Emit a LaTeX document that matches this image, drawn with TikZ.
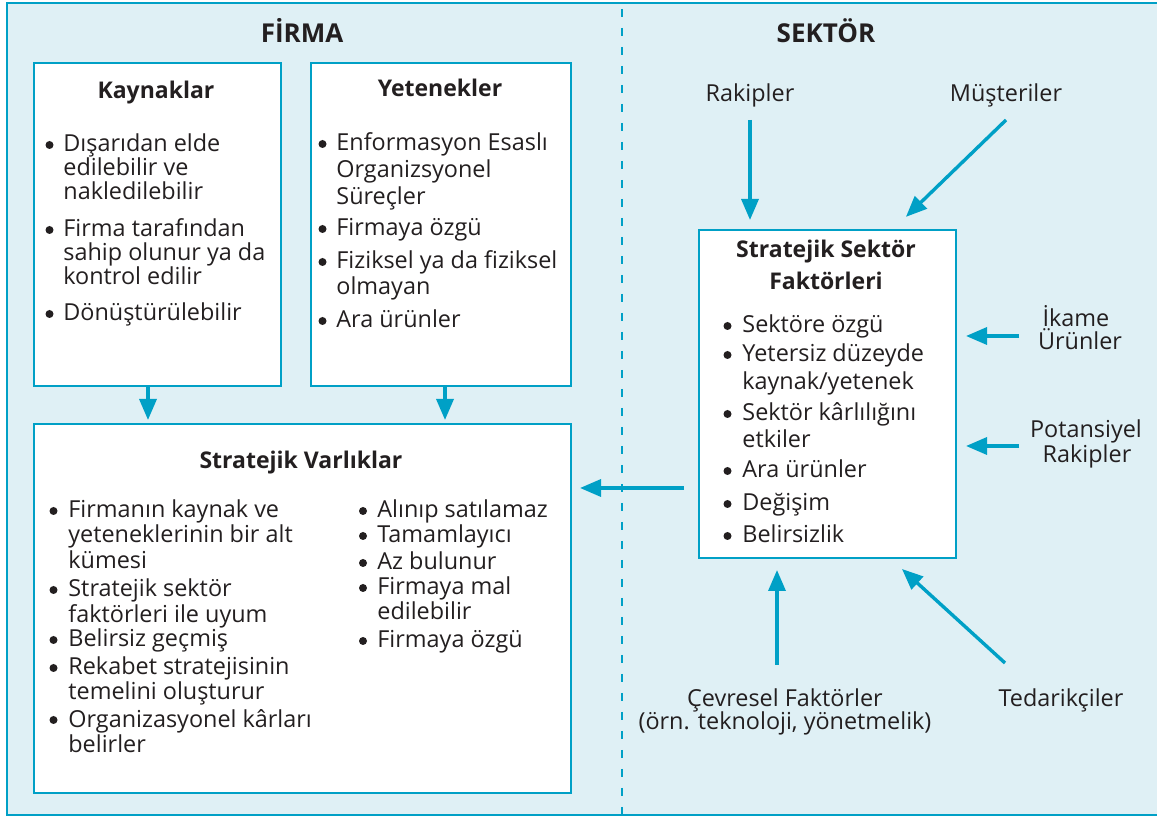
\documentclass[tikz,border=0pt]{standalone}
\usepackage{fontspec}
\setmainfont{Open Sans}
\usetikzlibrary{arrows.meta,calc}
\definecolor{panel}{RGB}{223,240,245}
\definecolor{teal}{RGB}{0,160,198}
\definecolor{ink}{RGB}{35,31,32}

\begin{document}
\begin{tikzpicture}[x=0.5pt,y=-0.5pt,
  txt/.style={anchor=base west,inner sep=0pt,font=\fontsize{11.7pt}{14pt}\selectfont,text=ink},
  lbl/.style={anchor=base,inner sep=0pt,font=\fontsize{11.7pt}{14pt}\selectfont,text=ink},
  head/.style={anchor=base,inner sep=0pt,font=\fontsize{11.5pt}{14pt}\selectfont\bfseries,text=ink},
  zone/.style={anchor=base,inner sep=0pt,font=\fontsize{13pt}{15pt}\selectfont\bfseries,text=ink},
  box/.style={draw=teal,line width=1pt,fill=white,anchor=north west,inner sep=0pt},
  arr/.style={draw=teal,line width=1.7pt,-{Triangle[length=10.5pt,width=8.5pt]}},
  dot/.style={fill=ink},
]
\useasboundingbox (0,0) rectangle (1157,817);

% panel and its frame
\fill[panel] (7,3) rectangle (1160,815);
\draw[teal,line width=0.7pt] (1160,3) -- (7,3) -- (7,815) -- (1160,815);
% firm / sector divider
\draw[teal,line width=1pt,dash pattern=on 4pt off 5.5pt,dash phase=-3pt] (622,3) -- (622,815);

% zone titles
\node[zone] (firma) at (302,43) {FİRMA};
\node[zone] (sektor) at (826,43) {SEKTÖR};

% boxes
\node[box,minimum width=123.5pt,minimum height=161.5pt] (kay) at (33,62) {};
\node[box,minimum width=130pt,minimum height=161.5pt] (yet) at (310,62) {};
\node[box,minimum width=268.5pt,minimum height=184.5pt] (var) at (33,423) {};
\node[box,minimum width=128.5pt,minimum height=164pt] (ssf) at (698,229) {};

% a list line: baseline y, 1 if it opens an item (gets a bullet), text
% Kaynaklar
\node[head] (kayT) at (156,99) {Kaynaklar};
\foreach \y/\b/\t [count=\i] in {152/1/{Dışarıdan elde},176/0/{edilebilir ve},200/0/{nakledilebilir},
  237/1/{Firma tarafından},261/0/{sahip olunur ya da},285/0/{kontrol edilir},321/1/{Dönüştürülebilir}}{
  \node[txt] (kay\i) at (63,\y) {\t};
  \ifnum\b=1 \fill[dot] ($(kay\i.base west)+(-13.5,-7)$) circle (2pt);\fi
}

% Yetenekler
\node[head] (yetT) at (440,97) {Yetenekler};
\foreach \y/\b/\t [count=\i] in {151/1/{Enformasyon Esaslı},178/0/{Organizsyonel},205/0/{Süreçler},
  236/1/{Firmaya özgü},269/1/{Fiziksel ya da fiziksel},295/0/{olmayan},328/1/{Ara ürünler}}{
  \node[txt] (yet\i) at (336,\y) {\t};
  \ifnum\b=1 \fill[dot] ($(yet\i.base west)+(-13.5,-7)$) circle (2pt);\fi
}

% Stratejik Varliklar
\node[head] (varT) at (301,469) {Stratejik Varlıklar};
\foreach \y/\b/\t [count=\i] in {518/1/{Firmanın kaynak ve},543/0/{yeteneklerinin bir alt},569/0/{kümesi},
  597/1/{Stratejik sektör},623/0/{faktörleri ile uyum},647/1/{Belirsiz geçmiş},
  675/1/{Rekabet stratejisinin},700/0/{temelini oluşturur},727/1/{Organizasyonel kârları},753/0/{belirler}}{
  \node[txt] (varL\i) at (68,\y) {\t};
  \ifnum\b=1 \fill[dot] ($(varL\i.base west)+(-14.5,-7)$) circle (2pt);\fi
}
\foreach \y/\b/\t [count=\i] in {518/1/{Alınıp satılamaz},543/1/{Tamamlayıcı},570/1/{Az bulunur},
  595/1/{Firmaya mal},620/0/{edilebilir},648/1/{Firmaya özgü}}{
  \node[txt] (varR\i) at (377,\y) {\t};
  \ifnum\b=1 \fill[dot] ($(varR\i.base west)+(-14,-7)$) circle (2pt);\fi
}

% Stratejik Sektor Faktorleri
\node[head] (ssfT1) at (826,258) {Stratejik Sektör};
\node[head] (ssfT2) at (826,290) {Faktörleri};
\foreach \y/\b/\t [count=\i] in {333/1/{Sektöre özgü},362/1/{Yetersiz düzeyde},390/0/{kaynak/yetenek},
  421/1/{Sektör kârlılığını},448/0/{etkiler},478/1/{Ara ürünler},511/1/{Değişim},543/1/{Belirsizlik}}{
  \node[txt] (ssf\i) at (742,\y) {\t};
  \ifnum\b=1 \fill[dot] ($(ssf\i.base west)+(-14.5,-7)$) circle (2pt);\fi
}

% forces around the sector factors
\node[lbl] (rak) at (750,102) {Rakipler};
\node[lbl] (mus) at (1006,102) {Müşteriler};
\node[lbl] (ika1) at (1076,327) {İkame};
\node[lbl] (ika2) at (1080,350) {Ürünler};
\node[lbl] (pot1) at (1086,438) {Potansiyel};
\node[lbl] (pot2) at (1087,463) {Rakipler};
\node[lbl] (cev1) at (785,706) {Çevresel Faktörler};
\node[lbl] (cev2) at (785,730) {(örn. teknoloji, yönetmelik)};
\node[lbl] (ted) at (1061,706) {Tedarikçiler};

\coordinate (rakT) at (750,120);
\coordinate (musT) at (1006,120);
\coordinate (ikaT) at (1019,336);
\coordinate (potT) at (1019,446);
\coordinate (cevT) at (777,665);
\coordinate (tedT) at (1005,663);

% connectors
\draw[arr,shorten >=1.5pt] ([xshift=-4.75pt]kay.south) -- ([xshift=-4.75pt]kay.south |- var.north);
\draw[arr,shorten >=1.5pt] ([xshift=2pt]yet.south) -- ([xshift=2pt]yet.south |- var.north);
\draw[arr,shorten <=7pt,shorten >=4pt] ([yshift=-47pt]ssf.west) -- ([yshift=-47pt]ssf.west -| var.east);
\draw[arr,shorten >=4.5pt] (rakT) -- (rakT |- ssf.north);
\draw[arr,shorten >=8.7pt] (musT) -- ([xshift=-31.8pt]ssf.north east);
\draw[arr,shorten >=4.5pt] (ikaT) -- (ikaT -| ssf.east);
\draw[arr,shorten >=4.5pt] (potT) -- (potT -| ssf.east);
\draw[arr,shorten >=5.5pt] (cevT) -- (cevT |- ssf.south);
\draw[arr,shorten >=7.4pt] (tedT) -- ([xshift=-33pt]ssf.south east);
\end{tikzpicture}
\end{document}
